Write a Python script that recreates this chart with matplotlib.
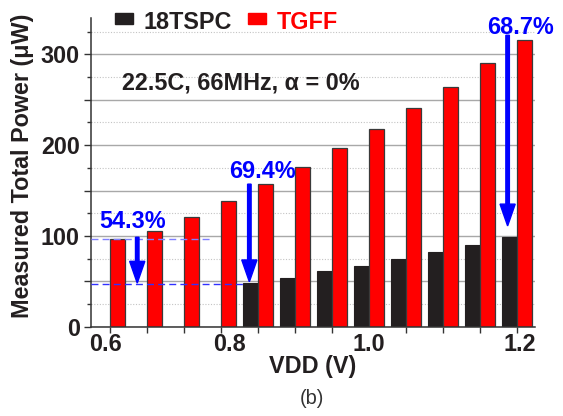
import numpy as np
import matplotlib
matplotlib.use("Agg")
import matplotlib.pyplot as plt
from matplotlib.patches import Rectangle
from matplotlib.ticker import MultipleLocator, FuncFormatter

# measured total power (uW) for each VDD step
tgff = [97, 105, 121, 138, 157, 176, 197, 218, 241, 264, 290, 316]
tspc = [np.nan, np.nan, np.nan, np.nan, 48.5, 54, 61.5, 67, 74.5, 82.5, 90, 99]
xtick_labels = ['0.6', '0.8', '1.0', '1.2']
xtick_pos = [-0.11, 3.23, 7.0, 11.09]
savings = ['54.3%', '69.4%', '68.7%']

W, H = 563, 416
DARK = '#231f20'
BLUE = '#0000ff'
FS = 16.8
plt.rcParams['font.family'] = ['Liberation Sans', 'DejaVu Sans']


def fx(px):
    return px / W


def fy(py):
    return 1 - py / H


fig = plt.figure(figsize=(W / 100, H / 100), dpi=100)
ax = fig.add_axes([fx(91), fy(326.7), (535 - 91) / W, (326.7 - 18) / H])

idx = np.arange(len(tgff))
bw = 0.405
ax.bar(idx, tspc, width=-bw, align='edge', color=DARK, edgecolor=DARK, linewidth=0.8, zorder=2)
ax.bar(idx, tgff, width=bw, align='edge', color='#ff0000', edgecolor='#3a3a3a', linewidth=0.9, zorder=2)

ax.set_xlim(-0.51, 11.49)
ax.set_ylim(0, 340)

# y axis: ticks every 50, labels every 100, dotted minor grid at 25s
ax.yaxis.set_major_locator(MultipleLocator(50))
ax.yaxis.set_minor_locator(MultipleLocator(25))
ax.yaxis.set_major_formatter(FuncFormatter(lambda v, p: '%d' % v if v % 100 == 0 else ''))
ax.set_axisbelow(True)
ax.grid(axis='y', which='major', color='#a8a8a8', linewidth=1.0, linestyle='-')
ax.grid(axis='y', which='minor', color='#c4c4c4', linewidth=0.8, linestyle=(0, (1, 1.5)))

# x axis: a tick at every group, labels placed separately
ax.set_xticks(xtick_pos)
ax.set_xticklabels(xtick_labels)
ax.set_xticks(idx, minor=True)
ax.tick_params(axis='x', which='major', length=0, pad=4.5, labelsize=FS, labelcolor=DARK)
ax.tick_params(axis='x', which='minor', length=4, width=1, color='#333333', direction='out')
ax.tick_params(axis='y', which='major', length=5, width=1, color='#333333', pad=3,
               labelsize=FS, labelcolor=DARK)
ax.tick_params(axis='y', which='minor', length=3, width=1, color='#333333')
for lab in ax.get_xticklabels() + ax.get_yticklabels():
    lab.set_fontweight('bold')

for s in ['top', 'right']:
    ax.spines[s].set_visible(False)
for s in ['left', 'bottom']:
    ax.spines[s].set_color('#333333')
    ax.spines[s].set_linewidth(1.1)

# reference dashed levels
ax.plot([-0.51, 2.75], [tgff[0], tgff[0]], color='#7f7fff', lw=1, ls=(0, (5, 3)), zorder=3)
ax.plot([-0.51, 3.6], [tspc[4] - 1.5, tspc[4] - 1.5], color='#3030ff', lw=1, ls=(0, (5, 3)), zorder=3)

# arrows showing power savings
arrow_kw = dict(width=0.095, head_width=0.41, head_length=24, length_includes_head=True,
                color=BLUE, zorder=4)
ax.arrow(0.74, 98.5, 0, 48 - 98.5, **arrow_kw)
ax.arrow(3.77, 157, 0, 49.5 - 157, **arrow_kw)
ax.arrow(10.75, 321, 0, 111 - 321, **arrow_kw)

txt_kw = dict(color=BLUE, fontsize=FS, fontweight='bold', ha='center', va='baseline', zorder=5)
ax.text(0.62, 108.2, savings[0], **txt_kw)
ax.text(4.11, 163.4, savings[1], **txt_kw)
ax.text(11.11, 322, savings[2], **txt_kw)

ax.text(3.53, 260.7, '22.5C, 66MHz, \u03b1 = 0%', color=DARK, fontsize=FS,
        fontweight='bold', ha='center', va='baseline')

# legend drawn by hand
fig.add_artist(Rectangle((fx(115), fy(24)), 18.3 / W, 10.7 / H, color=DARK,
                         transform=fig.transFigure))
fig.text(fx(143.3), fy(29.3), '18TSPC', color=DARK, fontsize=FS, fontweight='bold',
         ha='left', va='baseline')
fig.add_artist(Rectangle((fx(248), fy(24)), 17.5 / W, 10.7 / H, color='#ff0000',
                         transform=fig.transFigure))
fig.text(fx(276.7), fy(29.3), 'TGFF', color='#ff0000', fontsize=FS, fontweight='bold',
         ha='left', va='baseline')

fig.text(fx(23), fy(166), 'Measured Total Power (\u03bcW)', rotation=90, color=DARK,
         fontsize=FS, fontweight='bold', ha='center', va='center')
fig.text(fx(313), fy(373.3), 'VDD (V)', color=DARK, fontsize=FS, fontweight='bold',
         ha='center', va='baseline')
fig.text(fx(311.7), fy(404), '(b)', color='#333333', fontsize=14.4, ha='center', va='baseline')

fig.savefig('out.png', dpi=100)
